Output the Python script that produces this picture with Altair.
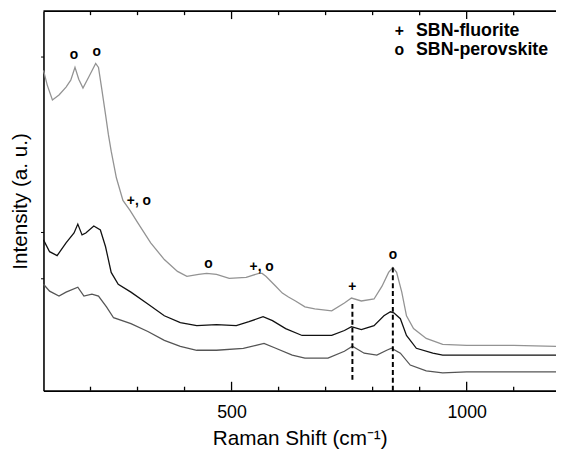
import altair as alt
import pandas as pd

# ---- data (Raman shift in cm-1, intensity in arbitrary units) ----
top_x = [100, 108, 119, 133, 148, 158, 167, 175, 184, 196, 211, 217, 224, 232, 238, 244, 255, 269,
         284, 301, 328, 357, 385, 405, 430, 447, 468, 495, 531, 558, 565, 573, 594, 608, 621, 636,
         656, 677, 713, 740, 755, 776, 803, 820, 834, 843, 851, 862, 872, 887, 914, 949, 1000, 1100, 1190]
top_y = [325, 310, 295, 300, 308, 315, 328, 316, 307, 318, 332, 328, 306, 280, 260, 243, 216, 193,
         183, 170, 150, 133, 121, 116, 118, 119, 118, 114, 115, 119, 119, 116, 106, 99, 95, 91,
         85, 83, 81, 89, 94, 91, 93, 106, 120, 125, 120, 100, 76, 63, 53, 47, 46, 46, 45]

mid_x = [100, 113, 129, 148, 165, 173, 182, 190, 207, 221, 232, 244, 259, 286, 322, 357, 391, 426,
         468, 510, 537, 567, 587, 615, 650, 692, 713, 740, 755, 776, 803, 824, 838, 845, 859, 872,
         893, 928, 949, 1000, 1100, 1190]
mid_y = [153, 141, 137, 150, 160, 169, 158, 160, 167, 163, 146, 120, 108, 100, 88, 76, 69, 66,
         67, 66, 70, 75, 71, 63, 56, 56, 56, 61, 65, 62, 66, 76, 80, 79, 73, 56,
         43, 38, 36, 36, 36, 36]

bot_x = [100, 113, 133, 148, 173, 186, 203, 217, 234, 249, 286, 322, 357, 391, 426, 468, 525, 552,
         569, 594, 629, 656, 705, 740, 757, 782, 809, 830, 840, 859, 880, 914, 949, 1000, 1100, 1190]
bot_y = [108, 101, 96, 100, 105, 96, 98, 96, 85, 74, 68, 60, 51, 45, 41, 41, 43, 46,
         48, 43, 36, 33, 33, 40, 45, 38, 36, 41, 43, 38, 26, 20, 18, 19, 19, 19]

series_names = ["top", "middle", "bottom"]
series_colors = ["#939393", "#111111", "#555555"]

# peak markers
mark_labels = ["o", "o", "+, o", "o", "+, o", "+", "o"]
mark_x = [165, 213, 303, 451, 564, 757, 843]
mark_y = [341, 344, 192, 128, 125, 105, 138]

# dashed guide lines (x, from, to)
dash_x = [757, 843]
dash_y1 = [88, 125]
dash_y2 = [10, 0]

# legend entries
legend_symbols = ["+", "o"]
legend_texts = ["SBN-fluorite", "SBN-perovskite"]
legend_y = [364.5, 345.5]

# axis ticks
major_ticks = [500, 1000]
minor_ticks = [200, 300, 400, 600, 700, 800, 900, 1100]
y_ticks = [114, 161, 339]

W, H = 520, 385
FONT = "Liberation Sans"

rows = []
for name, xs, ys in [("top", top_x, top_y), ("middle", mid_x, mid_y), ("bottom", bot_x, bot_y)]:
    for a, b in zip(xs, ys):
        rows.append({"series": name, "shift": a, "intensity": b})
spec = pd.DataFrame(rows)

xscale = alt.Scale(domain=[100, 1190], nice=False, zero=False)
yscale = alt.Scale(domain=[0, 385], nice=False, zero=False)

lines = alt.Chart(spec).mark_line(strokeWidth=1.3).encode(
    x=alt.X("shift:Q", scale=xscale,
            axis=alt.Axis(values=major_ticks, format="d", ticks=False, tickSize=0, labelPadding=13,
                          labelFontSize=18, labelColor="black", labelFont=FONT,
                          domainColor="black", domainWidth=1.6, grid=False,
                          title="Raman Shift (cm⁻¹)", titleFontSize=21, titleFont=FONT,
                          titleFontWeight="normal", titleColor="black", titlePadding=7)),
    y=alt.Y("intensity:Q", scale=yscale,
            axis=alt.Axis(values=y_ticks, labels=False, tickSize=3, tickColor="black",
                          domainColor="black", domainWidth=1.6, grid=False,
                          title="Intensity (a. u.)", titleFontSize=21, titleFont=FONT,
                          titleFontWeight="normal", titleColor="black", titlePadding=10)),
    color=alt.Color("series:N", scale=alt.Scale(domain=series_names, range=series_colors), legend=None),
    detail="series:N",
)

dash_df = pd.DataFrame({"x": dash_x, "y1": dash_y1, "y2": dash_y2})
dashes = alt.Chart(dash_df).mark_rule(color="black", strokeWidth=2, strokeDash=[5, 3]).encode(
    x=alt.X("x:Q", scale=xscale),
    y=alt.Y("y1:Q", scale=yscale),
    y2="y2:Q",
)

mk_df = pd.DataFrame({"label": mark_labels, "x": mark_x, "y": mark_y})
marks = alt.Chart(mk_df).mark_text(font=FONT, fontSize=14, fontWeight="bold", color="black",
                                   align="center", baseline="middle").encode(
    x=alt.X("x:Q", scale=xscale),
    y=alt.Y("y:Q", scale=yscale),
    text="label:N",
)

lg_df = pd.DataFrame({"sym": legend_symbols, "txt": legend_texts, "y": legend_y})
lg_sym = alt.Chart(lg_df).mark_text(font=FONT, fontSize=16, fontWeight="bold", color="black",
                                    align="center", baseline="middle").encode(
    x=alt.value(361), y=alt.Y("y:Q", scale=yscale), text="sym:N")
lg_txt = alt.Chart(lg_df).mark_text(font=FONT, fontSize=18, fontWeight="bold", color="black",
                                    align="left", baseline="middle").encode(
    x=alt.value(378), y=alt.Y("y:Q", scale=yscale), text="txt:N")

maj_df = pd.DataFrame({"v": major_ticks})
min_df = pd.DataFrame({"v": minor_ticks})
tick_style = dict(color="black", strokeWidth=1.3)
bot_major = alt.Chart(maj_df).mark_rule(**tick_style).encode(
    x=alt.X("v:Q", scale=xscale), y=alt.value(H), y2=alt.value(H - 9))
bot_minor = alt.Chart(min_df).mark_rule(**tick_style).encode(
    x=alt.X("v:Q", scale=xscale), y=alt.value(H), y2=alt.value(H - 4))
top_major = alt.Chart(maj_df).mark_rule(**tick_style).encode(
    x=alt.X("v:Q", scale=xscale), y=alt.value(0), y2=alt.value(8))
top_minor = alt.Chart(min_df).mark_rule(**tick_style).encode(
    x=alt.X("v:Q", scale=xscale), y=alt.value(0), y2=alt.value(4))
top_frame = alt.Chart(maj_df.head(1)).mark_rule(color="black", strokeWidth=1.8).encode(
    x=alt.value(0), x2=alt.value(W), y=alt.value(0))

chart = alt.layer(
    lines, dashes, marks, lg_sym, lg_txt, bot_major, bot_minor, top_major, top_minor, top_frame
).properties(
    width=W, height=H,
    padding={"left": 36, "top": 0, "right": 0, "bottom": 60},
    autosize=alt.AutoSizeParams(type="none"),
    background="white",
).configure_view(stroke=None)

chart.save("out.html", embed_options={"renderer": "svg", "actions": False})
